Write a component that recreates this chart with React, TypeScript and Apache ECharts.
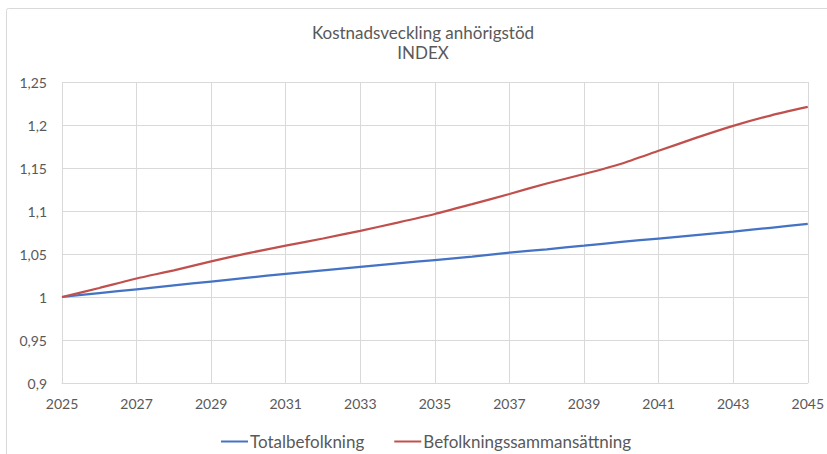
import React, { useEffect, useRef } from "react";
import * as echarts from "echarts";

const years: string[] = [
  "2025", "2026", "2027", "2028", "2029", "2030", "2031", "2032", "2033", "2034", "2035",
  "2036", "2037", "2038", "2039", "2040", "2041", "2042", "2043", "2044", "2045",
];

const totalbefolkning: number[] = [
  1.0, 1.0045, 1.009, 1.0135, 1.018, 1.0225, 1.027, 1.031, 1.035, 1.039, 1.043,
  1.047, 1.0515, 1.0555, 1.0597, 1.064, 1.068, 1.072, 1.076, 1.0805, 1.085,
];

const befolkningssammansattning: number[] = [
  1.0, 1.0105, 1.0215, 1.031, 1.0415, 1.051, 1.0597, 1.068, 1.077, 1.0865, 1.0965,
  1.108, 1.1198, 1.132, 1.143, 1.155, 1.17, 1.185, 1.199, 1.211, 1.221,
];

const titleLines = ["Kostnadsveckling anhörigstöd", "INDEX"];
const seriesNames = ["Totalbefolkning", "Befolkningssammansättning"];

const FONT = "Lato, 'Liberation Sans', sans-serif";

export default function App() {
  const ref = useRef<HTMLDivElement>(null);

  useEffect(() => {
    document.body.style.margin = "0";
    if (!ref.current) return;
    const chart = echarts.init(ref.current, undefined, { renderer: "svg" });
    const fmt = (v: number) =>
      parseFloat(Number(v).toFixed(2)).toString().replace(".", ",");
    chart.setOption({
      animation: false,
      backgroundColor: "#ffffff",
      textStyle: { fontFamily: FONT },
      graphic: [
        {
          type: "rect",
          shape: { x: 6.5, y: 8.5, width: 840, height: 470, r: 2 },
          style: { fill: "none", stroke: "#d9d9d9", lineWidth: 1 },
          silent: true,
        },
        ...titleLines.map((t, i) => ({
          type: "text",
          x: 423,
          y: 32 + i * 20,
          silent: true,
          style: {
            text: t,
            fill: "#595959",
            font: `17px ${FONT}`,
            textAlign: "center",
            textVerticalAlign: "middle",
          },
        })),
      ],
      legend: {
        top: 428,
        left: 216,
        icon: "rect",
        itemWidth: 27,
        itemHeight: 2,
        itemGap: 30,
        textStyle: {
          fontFamily: FONT,
          fontSize: 17,
          color: "#595959",
          padding: [0, 0, 0, -3],
        },
        data: seriesNames,
      },
      grid: { left: 62, right: 19, top: 82, bottom: 71, containLabel: false },
      xAxis: {
        type: "category",
        data: years,
        boundaryGap: false,
        axisLine: { show: true, lineStyle: { color: "#d9d9d9", width: 1 } },
        axisTick: { show: false },
        axisLabel: {
          interval: 1,
          margin: 13,
          fontFamily: FONT,
          fontSize: 14,
          color: "#595959",
        },
        splitLine: {
          show: true,
          interval: 1,
          lineStyle: { color: "#d9d9d9", width: 1 },
        },
      },
      yAxis: {
        type: "value",
        min: 0.9,
        max: 1.25,
        interval: 0.05,
        axisLine: { show: false },
        axisTick: { show: false },
        axisLabel: {
          margin: 15,
          fontFamily: FONT,
          fontSize: 14,
          color: "#595959",
          formatter: (v: number) => fmt(v),
        },
        splitLine: { show: true, lineStyle: { color: "#d9d9d9", width: 1 } },
      },
      series: [
        {
          name: seriesNames[0],
          type: "line",
          data: totalbefolkning,
          symbol: "none",
          smooth: 0.2,
          lineStyle: { color: "#4472C4", width: 2.25 },
          itemStyle: { color: "#4472C4" },
        },
        {
          name: seriesNames[1],
          type: "line",
          data: befolkningssammansattning,
          symbol: "none",
          smooth: 0.2,
          lineStyle: { color: "#C0504D", width: 2.25 },
          itemStyle: { color: "#C0504D" },
        },
      ],
    });
    return () => chart.dispose();
  }, []);

  return <div ref={ref} style={{ width: 827, height: 454 }} />;
}
